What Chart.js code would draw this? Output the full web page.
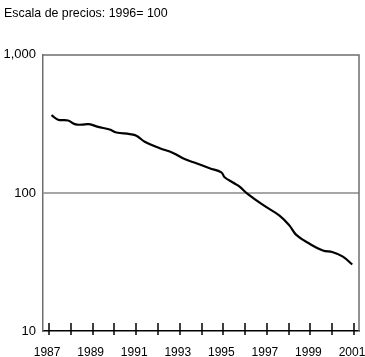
<!DOCTYPE html>
<html>
<head>
<meta charset="utf-8">
<script src="https://cdn.jsdelivr.net/npm/chart.js@4.4.1/dist/chart.umd.min.js"></script>
<style>
html,body{margin:0;padding:0;background:#fff;}
#wrap{width:365px;height:357px;position:relative;}
</style>
</head>
<body>
<div id="wrap"><canvas id="c" width="365" height="357"></canvas></div>
<script>
const titleText = "Escala de precios: 1996= 100";
const years = [1987.11,1987.41,1987.87,1988.18,1988.49,1988.83,1989.25,1989.78,1990.09,1990.70,1991.01,1991.39,1992.08,1992.69,1993.22,1993.76,1994.37,1994.91,1995.06,1995.44,1995.72,1996.13,1996.82,1997.58,1998.04,1998.35,1998.96,1999.57,2000.03,2000.49,2000.92];
const prices = [366,339,335,315,312,315,301,288,274,267,260,235,211,195,176,164,151,141,130,119,112,98,81.9,68.5,58,49.7,42.8,38.3,37.2,34.6,30.3];
const xTickYears = [1987,1988,1989,1990,1991,1992,1993,1994,1995,1996,1997,1998,1999,2000,2001];
const xLabelYears = [1987,1989,1991,1993,1995,1997,1999,2001];
const yTicks = [10,100,1000];

const frame = {
  id:'frame',
  afterDatasetsDraw(chart){
    const {ctx, chartArea:a} = chart;
    const xs = chart.scales.x;
    ctx.save();
    ctx.strokeStyle = '#6e6e6e';
    ctx.lineWidth = 1.5;
    ctx.beginPath();
    ctx.moveTo(a.left, a.top);
    ctx.lineTo(a.right, a.top);
    ctx.lineTo(a.right, a.bottom);
    ctx.stroke();
    ctx.strokeStyle = '#000';
    ctx.lineWidth = 1.5;
    ctx.beginPath();
    xTickYears.forEach(v=>{
      const px = Math.round(xs.getPixelForValue(v));
      ctx.moveTo(px, a.bottom - 8);
      ctx.lineTo(px, a.bottom + 4);
    });
    ctx.stroke();
    ctx.restore();
  }
};

new Chart(document.getElementById('c'), {
  type:'line',
  data:{
    datasets:[{
      data: years.map((y,i)=>({x:y, y:prices[i]})),
      borderColor:'#000',
      borderWidth:2.2,
      pointRadius:0,
      tension:0.4,
      fill:false
    }]
  },
  options:{
    responsive:false,
    animation:false,
    layout:{padding:{left:4,right:6,top:0,bottom:0}},
    plugins:{
      legend:{display:false},
      tooltip:{enabled:false},
      title:{
        display:true,
        text:titleText,
        align:'start',
        color:'#000',
        font:{family:'"Liberation Sans", Arial, sans-serif', size:12.4, weight:'normal'},
        padding:{top:6,bottom:34}
      }
    },
    scales:{
      x:{
        type:'linear',
        min:1986.72,
        max:2001.23,
        afterBuildTicks(s){ s.ticks = xLabelYears.map(v=>({value:v})); },
        afterFit(s){ s.height = 26; s.paddingLeft = 0; s.paddingRight = 0; },
        grid:{display:false, drawTicks:false},
        border:{display:true, color:'#000', width:1.5},
        ticks:{
          padding:14,
          labelOffset:-2,
          maxRotation:0,
          autoSkip:false,
          color:'#000',
          font:{family:'"Liberation Sans", Arial, sans-serif', size:12},
          callback:(v)=>String(v)
        }
      },
      y:{
        type:'logarithmic',
        min:10,
        max:1000,
        afterBuildTicks(s){ s.ticks = yTicks.map(v=>({value:v})); },
        afterFit(s){ s.width = 39; s.paddingTop = 0; s.paddingBottom = 0; },
        grid:{
          drawTicks:false,
          color:(c)=> (c.tick && c.tick.value===100) ? '#a6a6a6' : 'rgba(0,0,0,0)',
          lineWidth:2
        },
        border:{display:true, color:'#6e6e6e', width:1.5},
        ticks:{
          padding:7,
          color:'#000',
          font:{family:'"Liberation Sans", Arial, sans-serif', size:13},
          callback:(v)=>Number(v).toLocaleString('en-US')
        }
      }
    }
  },
  plugins:[frame]
});
</script>
</body>
</html>
